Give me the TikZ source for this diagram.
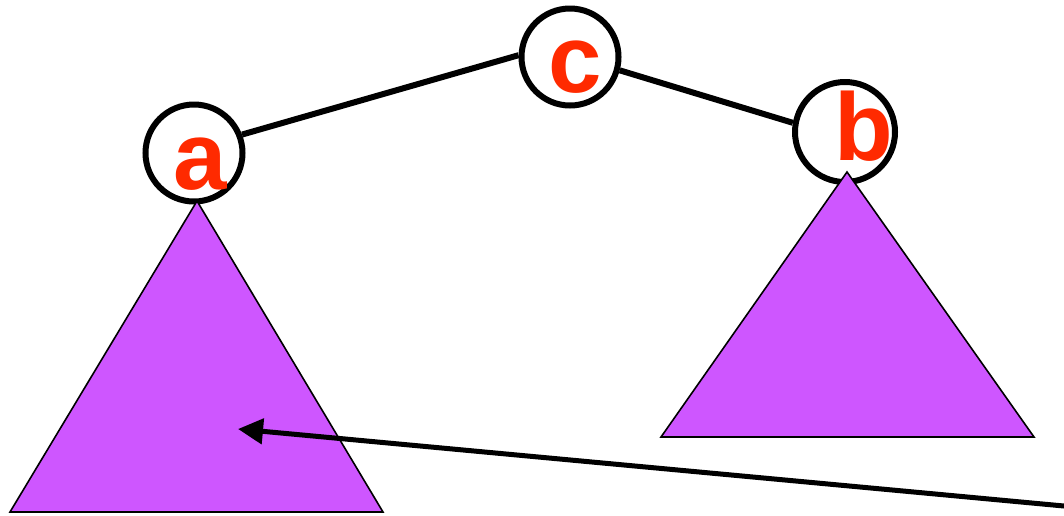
\documentclass[tikz,border=0pt]{standalone}
\usepackage{fontspec}
\setmainfont{Liberation Sans}
\usetikzlibrary{calc}
\usetikzlibrary{arrows.meta}
\definecolor{treefill}{RGB}{206,86,255}
\definecolor{keyred}{RGB}{255,42,0}
\begin{document}
\begin{tikzpicture}[x=1pt,y=-1pt,inner sep=0pt,
  knot/.style={circle,draw=black,line width=6pt,fill=white,minimum size=97pt},
  lettr/.style={text=keyred,font=\bfseries\fontsize{96}{96}\selectfont},
  subtree/.style={draw=black,line width=1.6pt,fill=treefill,line join=miter},
  link/.style={line width=6pt},
  pointer/.style={line width=5pt,-{Triangle[length=25pt,width=25pt]}}]
\useasboundingbox (0,0) rectangle (1064,515);
\node[knot] (a) at (194,153) {} node[lettr] (la) at ($(a) + (6,11)$) {a};
\node[knot] (c) at (570,57) {} node[lettr] (lc) at ($(c) + (5,10)$) {c};
\node[knot,minimum size=100pt] (b) at (845,132) {} node[lettr] (lb) at ($(b) + (19,-6)$) {b};

\draw[link] (a.21) -- (c.178);
\draw[link] (c.345) -- (b.170);

\draw[subtree] (197,201) -- (10,512) -- (383,512) -- cycle;
\draw[subtree] (847,172) -- (661,437) -- (1034,437) -- cycle;

\coordinate (tail) at (1064,506);
\coordinate (tip) at (238,429);
\draw[pointer] (tail) -- (tip);
\end{tikzpicture}
\end{document}
